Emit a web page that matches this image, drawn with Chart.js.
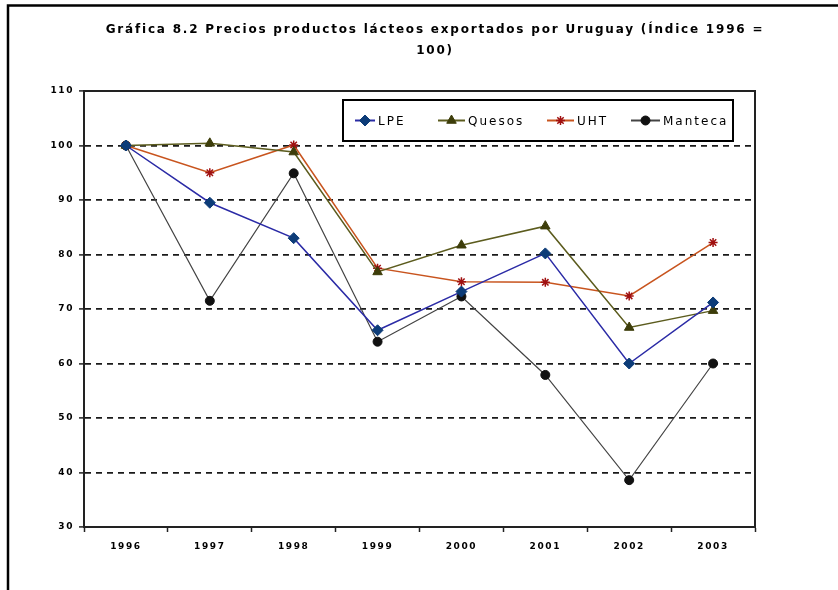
<!DOCTYPE html>
<html>
<head>
<meta charset="utf-8">
<script src="https://cdn.jsdelivr.net/npm/chart.js@4/dist/chart.umd.min.js"></script>
<style>
  html, body { margin: 0; padding: 0; background: #ffffff; }
  #wrap { width: 838px; height: 590px; position: relative; }
</style>
</head>
<body>
<div id="wrap"><canvas id="c" width="838" height="590"></canvas></div>
<script>
const years = ['1996', '1997', '1998', '1999', '2000', '2001', '2002', '2003'];
const lpe = [100, 89.5, 83.0, 66.1, 73.2, 80.2, 60.0, 71.2];
const quesos = [100, 100.4, 98.8, 76.8, 81.7, 85.2, 66.6, 69.7];
const uht = [100, 95.0, 100.1, 77.5, 75.0, 74.9, 72.4, 82.2];
const manteca = [100, 71.5, 94.9, 64.0, 72.3, 57.9, 38.6, 60.0];
const seriesNames = ['LPE', 'Quesos', 'UHT', 'Manteca'];
const titleLines = ['Gráfica 8.2 Precios productos lácteos exportados por Uruguay (Índice 1996 =', '100)'];
const yMin = 30, yMax = 110, yStep = 10;

const FONT = "'DejaVu Sans', Verdana, sans-serif";

const framePlugin = {
  id: 'framePlugin',
  beforeDraw(chart) {
    const ctx = chart.ctx;
    ctx.save();
    ctx.fillStyle = '#ffffff';
    ctx.fillRect(0, 0, chart.width, chart.height);
    ctx.strokeStyle = '#000000';
    ctx.lineWidth = 2.5;
    ctx.beginPath();
    ctx.moveTo(8, chart.height);
    ctx.lineTo(8, 5.5);
    ctx.lineTo(chart.width, 5.5);
    ctx.stroke();
    ctx.restore();
    ctx.letterSpacing = '1.6px';
  },
  afterDraw(chart) {
    const ctx = chart.ctx;
    const a = chart.chartArea;
    ctx.save();
    ctx.strokeStyle = '#222222';
    ctx.lineWidth = 2;
    ctx.setLineDash([]);
    ctx.strokeRect(a.left, a.top, a.right - a.left, a.bottom - a.top);
    // title
    ctx.letterSpacing = '1.8px';
    ctx.fillStyle = '#000000';
    ctx.font = 'bold 12px ' + FONT;
    ctx.textAlign = 'center';
    ctx.textBaseline = 'middle';
    titleLines.forEach((t, i) => ctx.fillText(t, 435, 30 + i * 21));
    // legend box
    const bx = 343, by = 100, bw = 390, bh = 41;
    ctx.fillStyle = '#ffffff';
    ctx.fillRect(bx, by, bw, bh);
    ctx.strokeStyle = '#000000';
    ctx.lineWidth = 2;
    ctx.strokeRect(bx, by, bw, bh);
    const starts = [355, 438, 547, 631];
    const lens = [20, 27, 27, 29];
    const cy = by + bh / 2;
    ctx.letterSpacing = '2px';
    ctx.font = '12px ' + FONT;
    ctx.textAlign = 'left';
    ctx.textBaseline = 'middle';
    chart.data.datasets.forEach((ds, i) => {
      const x0 = starts[i];
      ctx.strokeStyle = ds.borderColor;
      ctx.lineWidth = 2;
      ctx.beginPath();
      ctx.moveTo(x0, cy);
      ctx.lineTo(x0 + lens[i], cy);
      ctx.stroke();
      ctx.fillStyle = ds.pointBackgroundColor;
      ctx.strokeStyle = ds.pointBorderColor;
      ctx.lineWidth = ds.pointBorderWidth;
      Chart.helpers.drawPoint(ctx, {
        pointStyle: ds.pointStyle,
        radius: ds.pointRadius,
        rotation: 0,
        borderWidth: ds.pointBorderWidth
      }, x0 + lens[i] / 2, cy);
      ctx.fillStyle = '#000000';
      ctx.fillText(ds.label, x0 + lens[i] + 3, cy + 1);
    });
    ctx.restore();
  }
};

new Chart(document.getElementById('c'), {
  type: 'line',
  data: {
    labels: years,
    datasets: [
      {
        label: seriesNames[0], data: lpe,
        borderColor: '#2b2ba6', borderWidth: 1.5,
        pointStyle: 'rectRot', pointRadius: 5.5,
        pointBackgroundColor: '#0d3c78', pointBorderColor: '#0d3c78', pointBorderWidth: 1
      },
      {
        label: seriesNames[1], data: quesos,
        borderColor: '#5c5c1e', borderWidth: 1.5,
        pointStyle: 'triangle', pointRadius: 5.5,
        pointBackgroundColor: '#3d3d0a', pointBorderColor: '#3d3d0a', pointBorderWidth: 1
      },
      {
        label: seriesNames[2], data: uht,
        borderColor: '#c8541e', borderWidth: 1.5,
        pointStyle: 'star', pointRadius: 4.5,
        pointBackgroundColor: '#a01010', pointBorderColor: '#a01010', pointBorderWidth: 1.5
      },
      {
        label: seriesNames[3], data: manteca,
        borderColor: '#444444', borderWidth: 1.2,
        pointStyle: 'circle', pointRadius: 4.5,
        pointBackgroundColor: '#111111', pointBorderColor: '#111111', pointBorderWidth: 1
      }
    ]
  },
  options: {
    responsive: false,
    animation: false,
    layout: { padding: { left: 0, right: 83, top: 91, bottom: 0 } },
    plugins: {
      legend: { display: false },
      tooltip: { enabled: false },
      title: { display: false }
    },
    scales: {
      x: {
        type: 'category',
        offset: true,
        afterFit(s) { s.height = 63; },
        grid: {
          offset: true,
          drawOnChartArea: false,
          drawTicks: true,
          tickLength: 5,
          tickColor: '#222222',
          tickWidth: 1.5
        },
        border: { display: true, color: '#222222', width: 2 },
        ticks: {
          color: '#000000',
          padding: 9,
          font: { family: FONT, size: 9, weight: 'bold' },
          maxRotation: 0
        }
      },
      y: {
        min: yMin, max: yMax,
        afterFit(s) { s.width = 84; },
        grid: {
          color: '#1a1a1a',
          lineWidth: 1.8,
          drawTicks: true,
          tickLength: 5,
          tickColor: '#222222',
          tickWidth: 1.5,
          tickBorderDash: []
        },
        border: { display: true, color: '#222222', width: 2, dash: [6, 5] },
        ticks: {
          stepSize: yStep,
          color: '#000000',
          padding: 5,
          font: { family: FONT, size: 9, weight: 'bold' }
        }
      }
    }
  },
  plugins: [framePlugin]
});
</script>
</body>
</html>
